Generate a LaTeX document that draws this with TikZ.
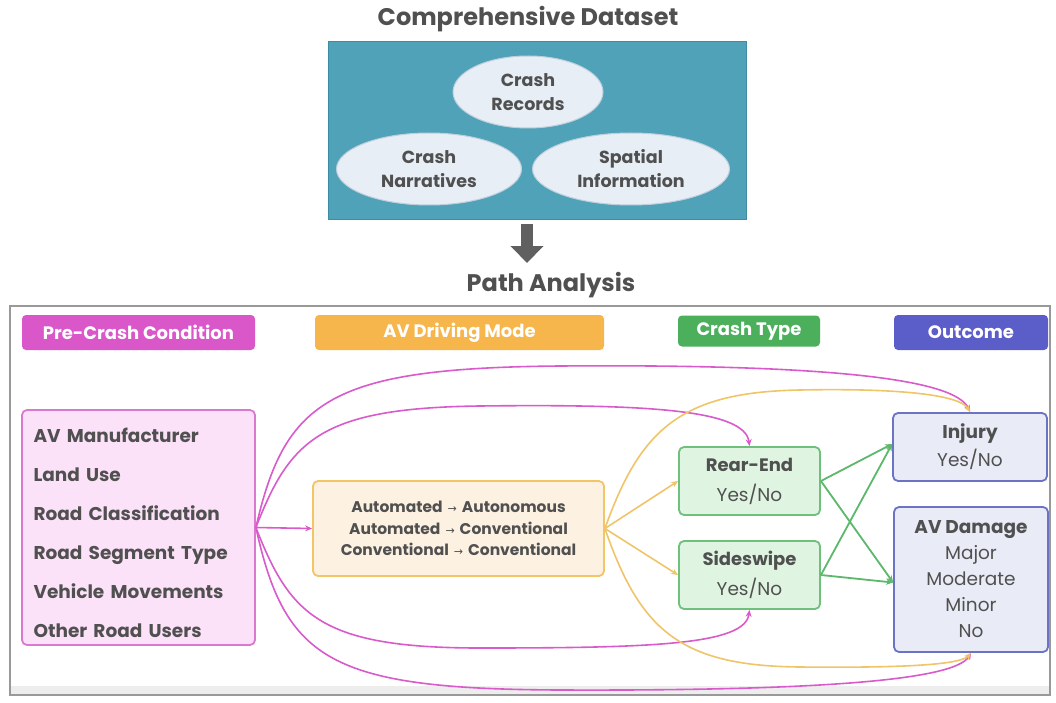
\documentclass[tikz,border=0pt]{standalone}
\usepackage{fontspec}
\setmainfont{Poppins}
\newfontfamily\djv{DejaVu Sans}
\usetikzlibrary{arrows.meta,shapes.geometric}
\definecolor{txt}{HTML}{505050}
\definecolor{txtl}{HTML}{606060}
\definecolor{teal}{HTML}{4FA2B8}
\definecolor{tealb}{HTML}{3E8CA2}
\definecolor{ellf}{HTML}{E7EEF5}
\definecolor{elld}{HTML}{BFCEDB}
\definecolor{mag}{HTML}{D957C9}
\definecolor{magf}{HTML}{FCE2F8}
\definecolor{magd}{HTML}{D97AD0}
\definecolor{org}{HTML}{F6B64C}
\definecolor{orgf}{HTML}{FDF1E2}
\definecolor{orgd}{HTML}{F2C566}
\definecolor{grn}{HTML}{4CAF5C}
\definecolor{grnf}{HTML}{E0F5E1}
\definecolor{grnd}{HTML}{6FC07C}
\definecolor{blu}{HTML}{5B5EC9}
\definecolor{bluf}{HTML}{E9ECF7}
\definecolor{blud}{HTML}{6B74C4}
\definecolor{pinkline}{HTML}{D95BCB}
\definecolor{orgline}{HTML}{F0C469}
\definecolor{grnline}{HTML}{5CB86A}
\newcommand{\rarr}{\hspace{5pt}{\djv\mdseries\fontsize{11}{11}\selectfont →}\hspace{5pt}}
\begin{document}
\begin{tikzpicture}[x=1pt,y=-1pt,
  ell/.style={ellipse, fill=ellf, draw=elld, line width=1pt, text=txt, align=center,
    font=\fontsize{17.5}{24}\selectfont\bfseries},
  hdr/.style={rounded corners=4pt, text=white, font=\fontsize{18}{20}\selectfont\bfseries, inner sep=0pt},
  box/.style={rounded corners=5pt, line width=1.8pt, text=txt, inner sep=0pt},
  tip/.style={-{Stealth[length=7pt,width=6pt]}},
  pk/.style={draw=pinkline, line width=1.6pt, tip},
  og/.style={draw=orgline, line width=1.6pt, tip},
  gn/.style={draw=grnline, line width=1.8pt, tip},
]
\useasboundingbox (0,0) rectangle (1056,703);
\fill[white] (0,0) rectangle (1056,703);

% top part
\node[text=txt, font=\fontsize{24}{28}\selectfont\bfseries] (title) at (528,19) {Comprehensive Dataset};
\node[fill=teal, draw=tealb, line width=1pt, minimum width=418pt, minimum height=178pt, inner sep=0pt] (ds) at (537,131) {};
\node[ell, minimum width=150pt, minimum height=72pt, inner sep=0pt] (cr) at (528,92) {Crash\\Records};
\node[ell, minimum width=185pt, minimum height=72pt, inner sep=0pt] (cn) at (429,169) {Crash\\Narratives};
\node[ell, minimum width=197pt, minimum height=72pt, inner sep=0pt] (si) at (631,169) {Spatial\\Information};
\node[text=txt, font=\fontsize{24}{28}\selectfont\bfseries] (pa) at (551,285) {Path Analysis};
\draw[draw=txtl, line width=12pt, -{Triangle[length=17pt,width=32pt]}] ([yshift=-4pt]ds.south -| 527,0) -- (527,263);

% panel
\node[draw=black!40, line width=1.2pt, fill=white, minimum width=1040pt, minimum height=389pt, inner sep=0pt] (panel) at (530,500.5) {};
\fill[black!7] (11,686) rectangle (1049,694);

% headers
\node[hdr, fill=mag, minimum width=233pt, minimum height=35pt] (h1) at (138.5,332.5) {Pre-Crash Condition};
\node[hdr, fill=org, minimum width=289pt, minimum height=35pt] (h2) at (459.5,332.5) {AV Driving Mode};
\node[hdr, fill=grn, minimum width=142pt, minimum height=31pt] (h3) at (749,331) {Crash Type};
\node[hdr, fill=blu, minimum width=154pt, minimum height=35pt] (h4) at (971,332.5) {Outcome};

% boxes
\node[box, fill=magf, draw=magd, minimum width=233pt, minimum height=235pt] (pc) at (138.5,527.5) {};
\node[text=txt, text width=210pt, align=left, inner sep=0pt,
  font=\fontsize{18.5}{39}\selectfont\bfseries] (pctext) at ([yshift=-5pt]pc.center)
  {AV Manufacturer\\Land Use\\Road Classification\\Road Segment Type\\Vehicle Movements\\Other Road Users};
\node[box, fill=orgf, draw=orgd, minimum width=291pt, minimum height=95pt, align=center,
  font=\fontsize{15.5}{21.5}\selectfont\bfseries] (dm) at (458.5,528.5)
  {Automated\rarr Autonomous\\Automated\rarr Conventional\\Conventional\rarr Conventional};
\node[box, fill=grnf, draw=grnd, minimum width=141pt, minimum height=68pt, align=center,
  font=\fontsize{18}{30}\selectfont] (re) at (749.5,481)
  {\textbf{Rear-End}\\{\fontsize{18.5}{30}\selectfont Yes/No}};
\node[box, fill=grnf, draw=grnd, minimum width=141pt, minimum height=68pt, align=center,
  font=\fontsize{18}{30}\selectfont] (ss) at (749.5,575)
  {\textbf{Sideswipe}\\{\fontsize{18.5}{30}\selectfont Yes/No}};
\node[box, fill=bluf, draw=blud, minimum width=154pt, minimum height=68pt, align=center,
  font=\fontsize{18.5}{28}\selectfont] (inj) at (970,447)
  {\textbf{Injury}\\Yes/No};
\node[box, fill=bluf, draw=blud, minimum width=154pt, minimum height=145pt, align=center,
  font=\fontsize{18.5}{26}\selectfont] (avd) at (971,579.5)
  {\textbf{AV Damage}\\Major\\Moderate\\Minor\\No};

% pink connectors
\draw[pk] (pc.east) -- (dm.west);
\draw[pk] (pc.east) .. controls (285,400) and (330,368) .. (560,366) .. controls (820,364) and (955,378) .. (inj.north);
\draw[pk] (pc.east) .. controls (290,440) and (320,408) .. (480,406) .. controls (650,404) and (745,410) .. (re.north);
\draw[pk] (pc.east) .. controls (290,615) and (320,648) .. (480,648) .. controls (650,648) and (745,645) .. (ss.south);
\draw[pk] (pc.east) .. controls (285,660) and (330,689) .. (560,690) .. controls (820,691) and (955,680) .. (avd.south);

% orange connectors
\draw[og] (dm.east) -- (re.west);
\draw[og] (dm.east) -- (ss.west);
\draw[og] (dm.east) .. controls (640,430) and (680,392) .. (800,390) .. controls (900,388) and (960,395) .. (inj.north);
\draw[og] (dm.east) .. controls (640,630) and (680,666) .. (800,667) .. controls (900,668) and (960,665) .. (avd.south);

% green connectors
\draw[gn] (re.east) -- ([yshift=3pt]inj.west);
\draw[gn] (re.east) -- ([yshift=-3pt]avd.west);
\draw[gn] (ss.east) -- ([yshift=3pt]inj.west);
\draw[gn] (ss.east) -- ([yshift=-3pt]avd.west);
\end{tikzpicture}
\end{document}
